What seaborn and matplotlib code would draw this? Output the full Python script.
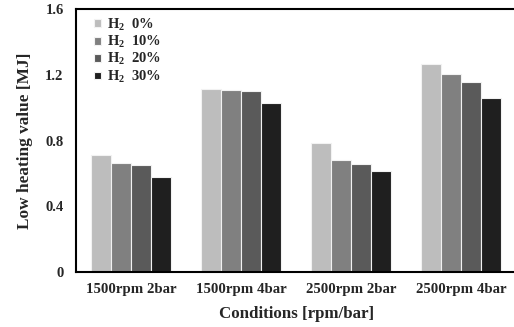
import matplotlib
matplotlib.use("Agg")
import matplotlib.pyplot as plt
import seaborn as sns
import pandas as pd

conditions = ["1500rpm 2bar", "1500rpm 4bar", "2500rpm 2bar", "2500rpm 4bar"]
h2_labels = [r"$\mathbf{H_2}$  0%", r"$\mathbf{H_2}$  10%",
             r"$\mathbf{H_2}$  20%", r"$\mathbf{H_2}$  30%"]
lhv_h2_0 = [0.712, 1.115, 0.787, 1.265]
lhv_h2_10 = [0.663, 1.111, 0.679, 1.205]
lhv_h2_20 = [0.651, 1.103, 0.657, 1.154]
lhv_h2_30 = [0.576, 1.026, 0.616, 1.059]
y_ticks = [0, 0.4, 0.8, 1.2, 1.6]
y_tick_labels = ["0", "0.4", "0.8", "1.2", "1.6"]

bar_colors = ["#bdbdbd", "#808080", "#5a5a5a", "#1f1f1f"]

rows = []
for label, vals in zip(h2_labels, [lhv_h2_0, lhv_h2_10, lhv_h2_20, lhv_h2_30]):
    for cond, v in zip(conditions, vals):
        rows.append({"Condition": cond, "H2": label, "LHV": v})
df = pd.DataFrame(rows)

sns.set_theme(style="white")
plt.rcParams["font.family"] = ["Liberation Serif", "DejaVu Serif"]
plt.rcParams["font.weight"] = "bold"
plt.rcParams["mathtext.fontset"] = "custom"
plt.rcParams["mathtext.rm"] = "Liberation Serif:bold"
plt.rcParams["mathtext.bf"] = "Liberation Serif:bold"
plt.rcParams["mathtext.it"] = "Liberation Serif:bold"

fig = plt.figure(figsize=(5.14, 3.27), dpi=100)
ax = fig.add_axes([0.148, 0.168, 0.856, 0.804])

sns.barplot(data=df, x="Condition", y="LHV", hue="H2", order=conditions,
            hue_order=h2_labels, palette=bar_colors, width=0.72,
            edgecolor="#f2f2f2", linewidth=0.8, ax=ax, errorbar=None)

ax.set_xlim(-0.5, 3.5)
ax.set_ylim(0, 1.6)
ax.set_yticks(y_ticks)
ax.set_yticklabels(y_tick_labels)
ax.tick_params(axis="y", direction="in", length=3, width=1, labelsize=10.5, pad=9)
ax.tick_params(axis="x", length=0, labelsize=10.7, pad=8)
for lab in ax.get_xticklabels() + ax.get_yticklabels():
    lab.set_fontweight("bold")

ax.set_xlabel("Conditions [rpm/bar]", fontsize=12.2, fontweight="bold", labelpad=7)
ax.set_ylabel("Low heating value [MJ]", fontsize=12.4, fontweight="bold", labelpad=9)

for side in ["left", "bottom", "top", "right"]:
    ax.spines[side].set_visible(True)
    ax.spines[side].set_color("black")
    ax.spines[side].set_linewidth(1.5)

leg = ax.legend(loc="upper left", frameon=False, fontsize=10.5,
                handlelength=0.45, handleheight=0.45, handletextpad=0.45,
                labelspacing=0.09, borderaxespad=0.1,
                bbox_to_anchor=(0.025, 1.0))
for t in leg.get_texts():
    t.set_fontweight("bold")

fig.savefig("out.png", dpi=100)
